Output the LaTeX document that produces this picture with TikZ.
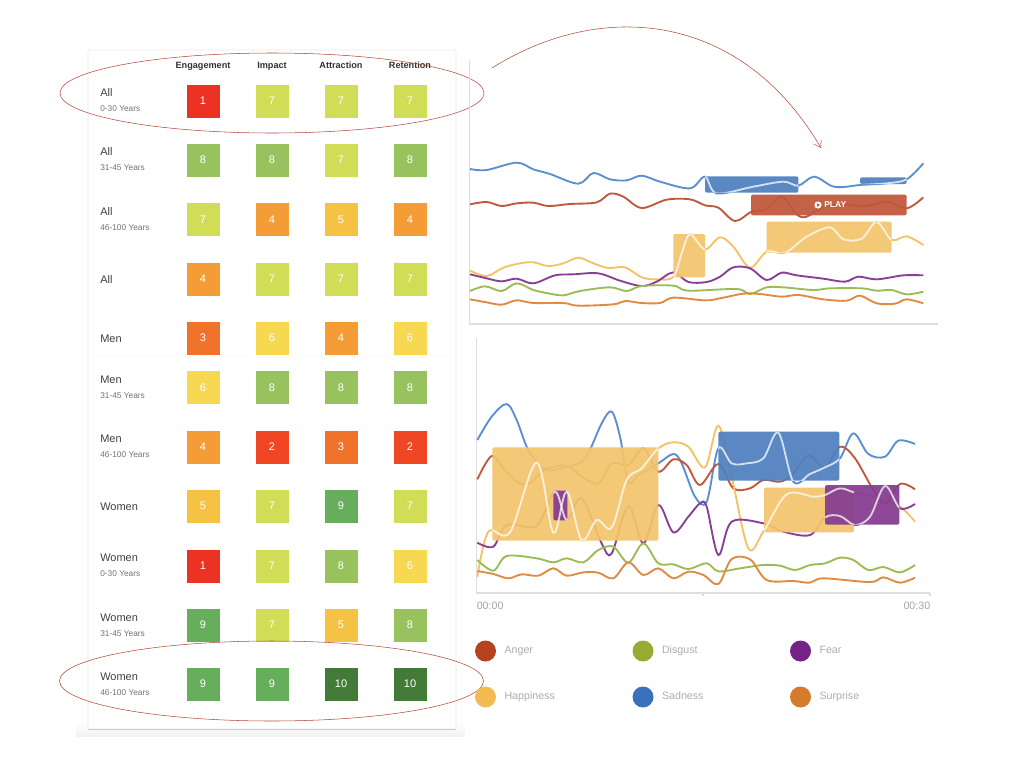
\documentclass[tikz,border=0pt]{standalone}
\usepackage{fontspec}
\setmainfont{Liberation Sans}
\usepackage{xcolor}
\usetikzlibrary{calc,positioning,arrows.meta,shapes.geometric}
\definecolor{scoreone}{HTML}{EC3323}
\definecolor{scoretwo}{HTML}{EF4623}
\definecolor{scorethree}{HTML}{F1722B}
\definecolor{scorefour}{HTML}{F49D37}
\definecolor{scorefive}{HTML}{F6C243}
\definecolor{scoresix}{HTML}{F7D851}
\definecolor{scoreseven}{HTML}{D1DC57}
\definecolor{scoreeight}{HTML}{98C25E}
\definecolor{scorenine}{HTML}{66AD5C}
\definecolor{scoreten}{HTML}{447A38}
\definecolor{ringred}{HTML}{B5483A}
\definecolor{lineblue}{HTML}{5B8FD0}
\definecolor{linered}{HTML}{C0583B}
\definecolor{lineyellow}{HTML}{F5C265}
\definecolor{linepurple}{HTML}{8A3F96}
\definecolor{linegreen}{HTML}{9CBB55}
\definecolor{lineorange}{HTML}{E08A42}
\definecolor{boxblue}{HTML}{4F7FBF}
\definecolor{boxred}{HTML}{BF573A}
\definecolor{boxyellow}{HTML}{F3C46D}
\definecolor{boxpurple}{HTML}{853C91}
\definecolor{dotanger}{HTML}{B54320}
\definecolor{dotdisgust}{HTML}{98AB32}
\definecolor{dotfear}{HTML}{762388}
\definecolor{dothappy}{HTML}{F2BC52}
\definecolor{dotsad}{HTML}{3A70BC}
\definecolor{dotsurprise}{HTML}{D67A2B}
\tikzset{
  cell/.style={rectangle,minimum size=24.75pt,inner sep=0pt,text=white,font=\fontsize{8.25pt}{10pt}\selectfont},
  sone/.style={cell,fill=scoreone},
  stwo/.style={cell,fill=scoretwo},
  sthree/.style={cell,fill=scorethree},
  sfour/.style={cell,fill=scorefour},
  sfive/.style={cell,fill=scorefive},
  ssix/.style={cell,fill=scoresix},
  sseven/.style={cell,fill=scoreseven},
  seight/.style={cell,fill=scoreeight},
  snine/.style={cell,fill=scorenine},
  sten/.style={cell,fill=scoreten},
  colhead/.style={font=\bfseries\fontsize{6.85pt}{8pt}\selectfont,text=black!80,inner sep=0pt,text height=5.2pt,text depth=1.4pt},
  rowname/.style={anchor=west,inner sep=0pt,text=black!75,font=\fontsize{8.25pt}{10pt}\selectfont},
  rowage/.style={anchor=west,inner sep=0pt,text=black!55,font=\fontsize{6.25pt}{8pt}\selectfont},
  ring/.style={ellipse,draw=ringred,thin,minimum width=318pt,minimum height=60pt,inner sep=0pt},
  axisline/.style={draw=black!13,line width=1pt},
  trace/.style={line width=1.4pt},
  hiline/.style={draw=white,opacity=0.75,line width=1.4pt},
  hbox/.style={rounded corners=1.5pt,opacity=0.93},
  timelabel/.style={text=black!35,inner sep=0pt,font=\fontsize{8pt}{9pt}\selectfont},
  legdot/.style={circle,minimum size=15.75pt,inner sep=0pt},
  leglabel/.style={text=black!32,inner sep=0pt,text height=5.8pt,text depth=1.6pt,font=\fontsize{8pt}{9pt}\selectfont},
  playlabel/.style={text=white,inner sep=0pt,font=\bfseries\fontsize{6.4pt}{8pt}\selectfont},
  topframe/.style={shift={(460,20)},x=0.25pt,y=-0.25pt},
  lowframe/.style={shift={(465,380)},x=0.25pt,y=-0.25pt}
}
% upper chart
\newcommand{\topblue}{plot[smooth,tension=0.55] coordinates {(30,447)(80,450)(170,428)(220,448)(270,462)(355,491)(400,459)(450,478)(500,481)(545,467)(600,485)(690,505)(735,470)(770,520)(880,500)(970,485)(1015,497)(1062,470)(1115,498)(1150,501)(1200,495)(1280,490)(1340,478)(1390,430)}}
\newcommand{\topred}{plot[smooth,tension=0.55] coordinates {(30,553)(80,546)(125,558)(170,550)(220,548)(265,558)(330,552)(410,547)(450,521)(490,530)(545,564)(620,539)(690,538)(735,556)(775,563)(825,603)(875,575)(920,568)(965,530)(1010,583)(1040,590)(1090,560)(1150,553)(1220,558)(1280,545)(1340,565)(1390,532)}}
\newcommand{\topyellow}{plot[smooth,tension=0.55] coordinates {(30,752)(80,768)(130,743)(180,730)(220,727)(265,738)(310,730)(355,713)(400,730)(445,744)(495,742)(545,772)(590,778)(640,771)(665,700)(690,643)(735,688)(780,652)(820,680)(870,743)(920,695)(975,698)(1040,650)(1110,622)(1150,658)(1205,656)(1250,606)(1295,660)(1340,649)(1390,675)}}
\newcommand{\toppurple}{plot[smooth,tension=0.55] coordinates {(30,763)(80,775)(125,784)(170,776)(220,790)(285,766)(340,763)(415,760)(480,782)(545,798)(590,785)(640,757)(685,786)(740,786)(780,770)(820,742)(870,745)(920,780)(965,758)(1010,766)(1090,776)(1155,785)(1195,770)(1250,778)(1330,766)(1390,766)}}
\newcommand{\topgreen}{plot[smooth,tension=0.55] coordinates {(30,813)(75,799)(125,813)(170,790)(220,810)(265,820)(310,826)(360,813)(450,802)(500,813)(545,798)(640,797)(685,812)(830,807)(870,822)(920,802)(970,802)(1060,810)(1110,805)(1205,805)(1250,812)(1295,810)(1340,823)(1390,815)}}
\newcommand{\toporange}{plot[smooth,tension=0.55] coordinates {(30,838)(80,847)(125,854)(170,841)(220,849)(310,849)(355,857)(460,853)(495,843)(545,849)(600,849)(640,833)(735,841)(780,835)(850,821)(900,822)(965,830)(1015,825)(1090,838)(1160,842)(1200,827)(1250,850)(1305,851)(1340,838)(1390,850)}}
% lower chart
\newcommand{\lowblue}{plot[smooth,tension=0.55] coordinates {(37,180)(80,110)(125,72)(155,120)(190,210)(240,268)(300,262)(360,235)(410,130)(440,95)(465,170)(490,305)(520,285)(580,250)(625,222)(650,250)(690,350)(725,365)(760,205)(800,250)(845,250)(895,235)(940,158)(985,305)(1035,282)(1080,262)(1125,235)(1165,160)(1210,222)(1260,230)(1300,182)(1350,192)}}
\newcommand{\lowred}{plot[smooth,tension=0.55] coordinates {(37,298)(80,228)(120,270)(165,310)(200,305)(240,268)(305,258)(350,290)(400,310)(440,250)(490,255)(535,205)(580,275)(625,238)(665,255)(705,315)(760,252)(805,325)(855,325)(895,300)(945,305)(980,285)(1030,228)(1080,262)(1125,200)(1170,235)(1225,330)(1260,372)(1305,312)(1350,328)}}
\newcommand{\lowyellow}{plot[smooth,tension=0.55] coordinates {(37,590)(70,455)(135,457)(215,248)(265,458)(305,335)(350,480)(395,420)(440,443)(485,300)(530,265)(580,205)(625,187)(670,200)(720,262)(760,137)(800,290)(850,505)(895,455)(965,343)(1045,350)(1080,345)(1125,325)(1170,338)(1240,355)(1305,380)(1350,425)}}
\newcommand{\lowpurple}{plot[smooth,tension=0.55] coordinates {(37,488)(85,500)(125,435)(215,437)(270,335)(305,420)(350,355)(410,490)(440,520)(490,378)(535,490)(580,375)(625,457)(670,410)(705,370)(725,380)(760,525)(800,425)(895,430)(955,455)(1035,465)(1080,412)(1125,408)(1170,435)(1215,410)(1260,318)(1305,385)(1350,372)}}
\newcommand{\lowgreen}{plot[smooth,tension=0.55] coordinates {(37,540)(85,572)(125,528)(215,535)(265,547)(305,535)(355,547)(400,510)(445,500)(490,548)(535,490)(580,550)(625,553)(670,567)(725,550)(760,574)(825,565)(895,555)(945,557)(990,570)(1035,555)(1080,550)(1125,533)(1165,540)(1210,570)(1255,561)(1305,577)(1350,555)}}
\newcommand{\loworange}{plot[smooth,tension=0.55] coordinates {(37,573)(85,582)(130,595)(170,583)(220,587)(265,565)(305,587)(355,577)(400,578)(445,595)(490,547)(535,585)(580,565)(625,595)(670,575)(715,585)(760,612)(800,537)(855,538)(905,600)(985,603)(1035,608)(1075,595)(1215,606)(1255,592)(1305,608)(1350,593)}}

\begin{document}
\begin{tikzpicture}[x=0.75pt,y=-0.75pt,node distance=51.75pt]
    \useasboundingbox (0,0) rectangle (1024,768);
    \fill[white] (0,0) rectangle (1024,768);

    % card behind the table
    \shade[top color=white,bottom color=black!5] (76,722) rectangle (465,736);
    \draw[black!8,fill=white,rounded corners=1pt] (88,50) rectangle (456,729);
    \draw[black!20] (88,729) -- (456,729);
    \draw[black!1.5] (84,355) -- (458,355);

    \node[colhead] (engage) at (203,66) {Engagement};
    \node[colhead,right of=engage] (impact) {Impact};
    \node[colhead,right of=impact] (attract) {Attraction};
    \node[colhead,right of=attract] (retain) {Retention};

    \node[rowname] (name1) at (100,92.5) {All};
    \node[rowage] (age1) at (100,109) {0-30 Years};
    \node[sone] (a1) at (203,101) {1};
    \node[sseven,right of=a1] (b1) {7};
    \node[sseven,right of=b1] (c1) {7};
    \node[sseven,right of=c1] (d1) {7};

    \node[rowname] (name2) at (100,151.5) {All};
    \node[rowage] (age2) at (100,168) {31-45 Years};
    \node[seight] (a2) at (203,160) {8};
    \node[seight,right of=a2] (b2) {8};
    \node[sseven,right of=b2] (c2) {7};
    \node[seight,right of=c2] (d2) {8};

    \node[rowname] (name3) at (100,211.5) {All};
    \node[rowage] (age3) at (100,228) {46-100 Years};
    \node[sseven] (a3) at (203,219.5) {7};
    \node[sfour,right of=a3] (b3) {4};
    \node[sfive,right of=b3] (c3) {5};
    \node[sfour,right of=c3] (d3) {4};

    \node[rowname] (name4) at (100,279.5) {All};
    \node[sfour] (a4) at (203,279) {4};
    \node[sseven,right of=a4] (b4) {7};
    \node[sseven,right of=b4] (c4) {7};
    \node[sseven,right of=c4] (d4) {7};

    \node[rowname] (name5) at (100,338.5) {Men};
    \node[sthree] (a5) at (203,338) {3};
    \node[ssix,right of=a5] (b5) {6};
    \node[sfour,right of=b5] (c5) {4};
    \node[ssix,right of=c5] (d5) {6};

    \node[rowname] (name6) at (100,379.5) {Men};
    \node[rowage] (age6) at (100,396) {31-45 Years};
    \node[ssix] (a6) at (203,387.5) {6};
    \node[seight,right of=a6] (b6) {8};
    \node[seight,right of=b6] (c6) {8};
    \node[seight,right of=c6] (d6) {8};

    \node[rowname] (name7) at (100,438.5) {Men};
    \node[rowage] (age7) at (100,455) {46-100 Years};
    \node[sfour] (a7) at (203,447) {4};
    \node[stwo,right of=a7] (b7) {2};
    \node[sthree,right of=b7] (c7) {3};
    \node[stwo,right of=c7] (d7) {2};

    \node[rowname] (name8) at (100,506.5) {Women};
    \node[sfive] (a8) at (203,506) {5};
    \node[sseven,right of=a8] (b8) {7};
    \node[snine,right of=b8] (c8) {9};
    \node[sseven,right of=c8] (d8) {7};

    \node[rowname] (name9) at (100,557.5) {Women};
    \node[rowage] (age9) at (100,574) {0-30 Years};
    \node[sone] (a9) at (203,566) {1};
    \node[sseven,right of=a9] (b9) {7};
    \node[seight,right of=b9] (c9) {8};
    \node[ssix,right of=c9] (d9) {6};

    \node[rowname] (name10) at (100,617.5) {Women};
    \node[rowage] (age10) at (100,634) {31-45 Years};
    \node[snine] (a10) at (203,625) {9};
    \node[sseven,right of=a10] (b10) {7};
    \node[sfive,right of=b10] (c10) {5};
    \node[seight,right of=c10] (d10) {8};

    \node[rowname] (name11) at (100,676.5) {Women};
    \node[rowage] (age11) at (100,693) {46-100 Years};
    \node[snine] (a11) at (203,684) {9};
    \node[snine,right of=a11] (b11) {9};
    \node[sten,right of=b11] (c11) {10};
    \node[sten,right of=c11] (d11) {10};

    \node[ring] (ringtop) at (272,93) {};
    \node[ring] (ringlow) at (271.5,681) {};

    \coordinate (curvestart) at (492,68);
    \coordinate (curveend) at (821,148);
    \draw[ringred,thin,-{Straight Barb[length=5pt,width=6.5pt]}] (curvestart) .. controls (600,0) and (740,10) .. (curveend);

    % upper chart
    \draw[axisline] (469.5,60) -- (469.5,324) -- (938,324);
    \begin{scope}[topframe]
      \draw[trace,lineblue] \topblue;
      \draw[trace,linered] \topred;
      \draw[trace,lineyellow] \topyellow;
      \draw[trace,linepurple] \toppurple;
      \draw[trace,linegreen] \topgreen;
      \draw[trace,lineorange] \toporange;
      \fill[hbox,boxblue] (735,469) rectangle (1015,518);
      \fill[hbox,boxblue] (1200,472) rectangle (1340,492);
      \fill[hbox,boxred] (873,524) rectangle (1340,586);
      \fill[hbox,boxyellow] (640,642) rectangle (735,772);
      \fill[hbox,boxyellow] (920,605) rectangle (1295,698);
      \begin{scope}
        \clip (735,469) rectangle (1015,518) (1200,472) rectangle (1340,492);
        \draw[hiline] \topblue;
      \end{scope}
      \begin{scope}
        \clip (640,642) rectangle (735,772) (920,605) rectangle (1295,698);
        \draw[hiline] \topyellow;
      \end{scope}
    \end{scope}
    \node[circle,fill=white,minimum size=5.4pt,inner sep=0pt] (playdot) at (818,205) {};
    \fill[boxred] (816.9,203.2) -- (820,205) -- (816.9,206.8) -- cycle;
    \node[playlabel,right=1.6pt of playdot] (playtext) {PLAY};

    % lower chart
    \draw[axisline] (476.7,338) -- (476.7,593) -- (930,593);
    \draw[axisline] (703,593) -- (703,596);
    \draw[axisline] (930,593) -- (930,596);
    \begin{scope}[lowframe]
      \draw[trace,lineblue] \lowblue;
      \draw[trace,linered] \lowred;
      \draw[trace,lineyellow] \lowyellow;
      \draw[trace,linepurple] \lowpurple;
      \draw[trace,linegreen] \lowgreen;
      \draw[trace,lineorange] \loworange;
      \fill[hbox,boxyellow] (82,202) rectangle (580,482);
      \fill[hbox,boxpurple] (265,332) rectangle (307,421);
      \fill[hbox,boxblue] (760,155) rectangle (1123,302);
      \fill[hbox,boxyellow] (897,323) rectangle (1167,457);
      \fill[hbox,boxpurple] (1080,315) rectangle (1303,434);
      \begin{scope}
        \clip (82,202) rectangle (580,482) (897,323) rectangle (1167,457);
        \draw[hiline] \lowyellow;
      \end{scope}
      \begin{scope}
        \clip (265,332) rectangle (307,421) (1080,315) rectangle (1303,434);
        \draw[hiline] \lowpurple;
      \end{scope}
      \begin{scope}
        \clip (760,155) rectangle (1123,302);
        \draw[hiline] \lowblue;
      \end{scope}
    \end{scope}
    \node[timelabel,anchor=west] (timestart) at (476.5,606) {00:00};
    \node[timelabel,anchor=east] (timeend) at (930.5,606) {00:30};

    % legend
    \node[legdot,fill=dotanger] (anger) at (485.5,651) {};
    \node[legdot,fill=dotdisgust] (disgust) at (643,651) {};
    \node[legdot,fill=dotfear] (fear) at (800.5,651) {};
    \node[legdot,fill=dothappy] (happy) at (485.5,697) {};
    \node[legdot,fill=dotsad] (sad) at (643,697) {};
    \node[legdot,fill=dotsurprise] (surprise) at (800.5,697) {};
    \node[leglabel,right=6pt of anger] (angertext) {Anger};
    \node[leglabel,right=6pt of disgust] (disgusttext) {Disgust};
    \node[leglabel,right=6pt of fear] (feartext) {Fear};
    \node[leglabel,right=6pt of happy] (happytext) {Happiness};
    \node[leglabel,right=6pt of sad] (sadtext) {Sadness};
    \node[leglabel,right=6pt of surprise] (surprisetext) {Surprise};
\end{tikzpicture}
\end{document}
